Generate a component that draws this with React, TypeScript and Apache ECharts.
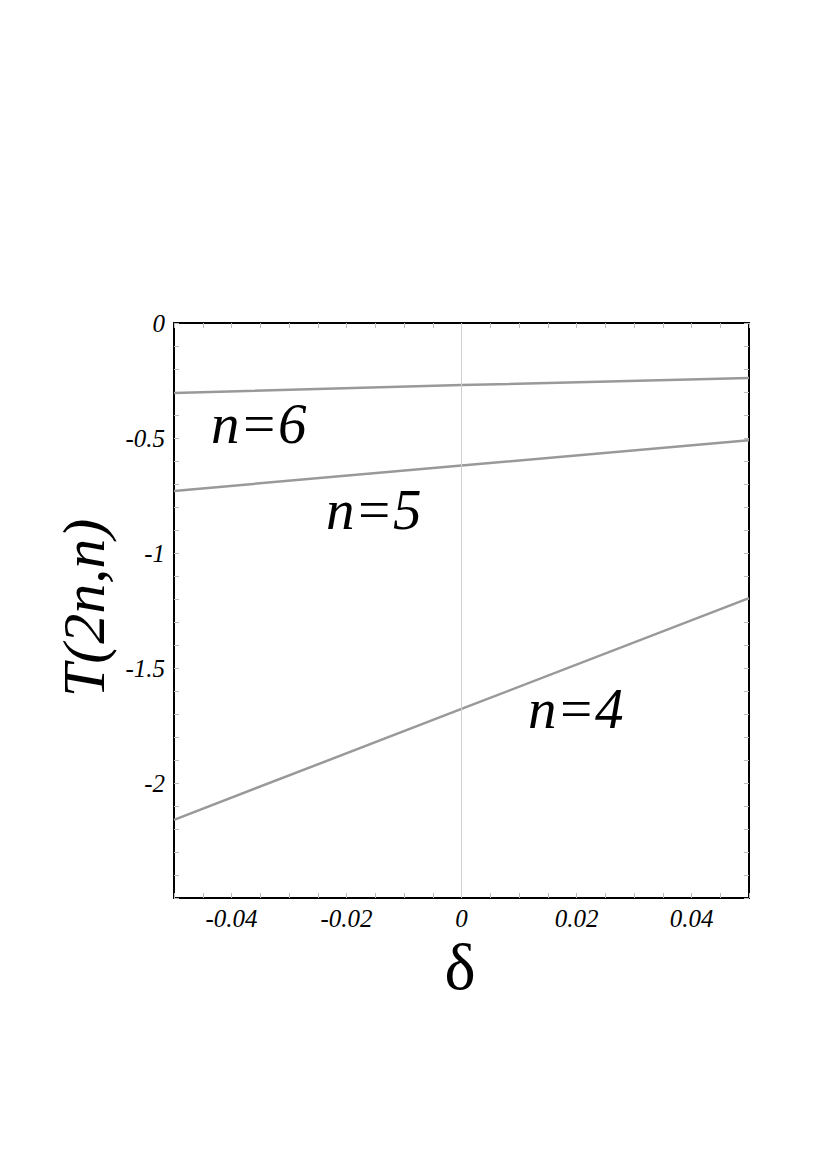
import React, { useEffect, useRef } from "react";
import * as echarts from "echarts";

const deltaValues = [-0.05, 0, 0.05];
const n6Values = [-0.304, -0.27, -0.239];
const n5Values = [-0.73, -0.62, -0.51];
const n4Values = [-2.16, -1.678, -1.196];
const curveNames = ["n=6", "n=5", "n=4"];

const FONT = '"Liberation Serif", "DejaVu Serif", "Times New Roman", serif';
const LINE_COLOR = "#999999";
const TICK_COLOR = "#bbbbbb";

const GRID = { left: 174, top: 323, width: 575, height: 575 };

function pairs(ys: number[]) {
  return deltaValues.map((x, i) => [x, ys[i]]);
}

function isMultiple(v: number, step: number) {
  const r = v / step;
  return Math.abs(r - Math.round(r)) < 1e-6;
}

export default function App() {
  const ref = useRef<HTMLDivElement>(null);
  useEffect(() => {
    if (!ref.current) return;
    const chart = echarts.init(ref.current, null, { renderer: "svg" });
    const axisLine = { show: true, onZero: false, lineStyle: { color: "#000", width: 2 } };
    const tick = { show: true, inside: true, length: 5, lineStyle: { color: TICK_COLOR, width: 1 } };
    const xBase = {
      type: "value" as const,
      min: -0.05,
      max: 0.05,
      interval: 0.005,
      axisLine,
      axisTick: tick,
      splitLine: { show: false },
    };
    const yBase = {
      type: "value" as const,
      min: -2.5,
      max: 0,
      interval: 0.1,
      axisLine,
      axisTick: tick,
      splitLine: { show: false },
    };
    const lineSeries = (name: string, ys: number[], extra: any = {}) => ({
      type: "line",
      name,
      data: pairs(ys),
      showSymbol: false,
      symbol: "none",
      lineStyle: { color: LINE_COLOR, width: 2.5 },
      silent: true,
      ...extra,
    });
    chart.setOption({
      animation: false,
      backgroundColor: "#fff",
      grid: { ...GRID, containLabel: false },
      xAxis: [
        {
          ...xBase,
          position: "bottom",
          axisLabel: {
            show: true,
            margin: 8,
            fontFamily: FONT,
            fontStyle: "italic",
            fontSize: 25,
            color: "#000",
            formatter: (v: number) => {
              if (!isMultiple(v, 0.02) || Math.abs(v) > 0.045) return "";
              const r = Math.round(v * 100) / 100;
              return r === 0 ? "0" : r.toFixed(2);
            },
          },
        },
        { ...xBase, position: "top", axisLabel: { show: false } },
      ],
      yAxis: [
        {
          ...yBase,
          position: "left",
          axisLabel: {
            show: true,
            margin: 9,
            fontFamily: FONT,
            fontStyle: "italic",
            fontSize: 25,
            color: "#000",
            formatter: (v: number) => {
              if (!isMultiple(v, 0.5) || v < -2.45) return "";
              const r = Math.round(v * 10) / 10;
              return String(r);
            },
          },
        },
        { ...yBase, position: "right", axisLabel: { show: false } },
      ],
      series: [
        lineSeries(curveNames[0], n6Values, {
          markLine: {
            silent: true,
            symbol: "none",
            label: { show: false },
            lineStyle: { color: "#d0d0d0", width: 1, type: "solid" },
            data: [{ xAxis: 0 }],
          },
        }),
        lineSeries(curveNames[1], n5Values),
        lineSeries(curveNames[2], n4Values),
      ],
      graphic: [
        {
          type: "text",
          x: 211,
          y: 423,
          style: { text: curveNames[0], font: `italic 57px ${FONT}`, fill: "#000", textVerticalAlign: "middle" },
        },
        {
          type: "text",
          x: 326,
          y: 509,
          style: { text: curveNames[1], font: `italic 57px ${FONT}`, fill: "#000", textVerticalAlign: "middle" },
        },
        {
          type: "text",
          x: 528,
          y: 708,
          style: { text: curveNames[2], font: `italic 57px ${FONT}`, fill: "#000", textVerticalAlign: "middle" },
        },
        {
          type: "text",
          x: 84,
          y: 608,
          rotation: Math.PI / 2,
          style: {
            text: "T(2n,n)",
            font: `italic 60px ${FONT}`,
            fill: "#000",
            textAlign: "center",
            textVerticalAlign: "middle",
          },
        },
        {
          type: "text",
          x: 460,
          y: 966,
          style: {
            text: "δ",
            font: `66px ${FONT}`,
            fill: "#000",
            textAlign: "center",
            textVerticalAlign: "middle",
          },
        },
      ],
    });
    return () => chart.dispose();
  }, []);
  return (
    <div
      ref={ref}
      style={{ position: "absolute", left: 0, top: 0, width: 827, height: 1171, background: "#fff" }}
    />
  );
}
